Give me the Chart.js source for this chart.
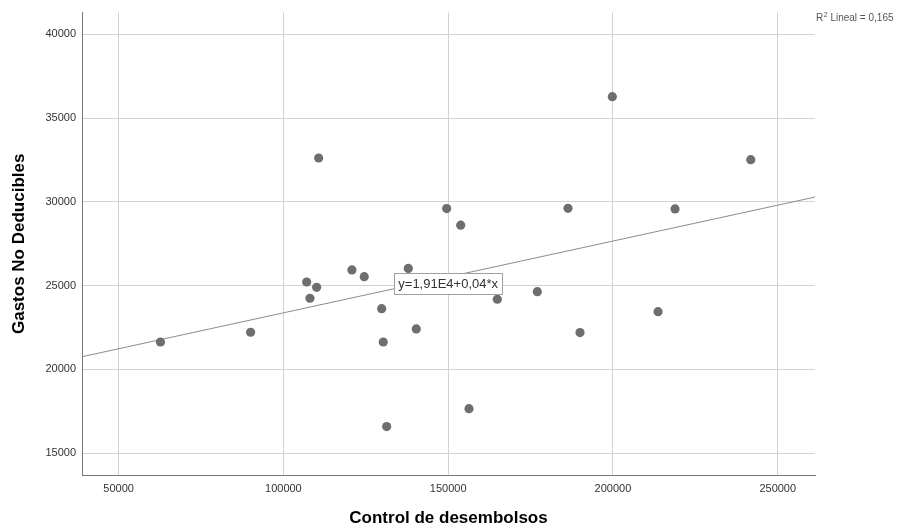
<!DOCTYPE html>
<html><head><meta charset="utf-8">
<script src="https://cdn.jsdelivr.net/npm/chart.js@4.4.1/dist/chart.umd.min.js"></script>
<style>html,body{margin:0;padding:0;background:#fff;}canvas{display:block;}</style>
</head><body>
<canvas id="c" width="907" height="527"></canvas>
<script>
// ---- data ----
const controlDesembolsos = [62700, 90060, 110700, 107060, 110090, 108060, 120800, 124540, 129820, 130300, 131340, 137900, 140320, 149550, 153800, 156320, 164900, 177050, 186360, 190000, 199810, 213680, 218840, 241810];
const gastosNoDeducibles = [21640, 22220, 32620, 25220, 24900, 24250, 25940, 25540, 23630, 21640, 16590, 26030, 22420, 29600, 28610, 17660, 24190, 24640, 29620, 22200, 36280, 23450, 29580, 32520];
const xTicks = [50000, 100000, 150000, 200000, 250000];
const yTicks = [15000, 20000, 25000, 30000, 35000, 40000];
const xRange = [38900, 261300];
const yRange = [13700, 41300];
const fitLineX = [38900, 261300];
const fitLineY = [20760, 30290];
const fitEquation = 'y=1,91E4+0,04*x';
const fitLabelAt = [150000, 25160];
const rSquaredParts = ['R', '2', ' Lineal = 0,165'];
const xTitle = 'Control de desembolsos';
const yTitle = 'Gastos No Deducibles';

const FONT = "'Liberation Sans', Arial, sans-serif";

const annotations = {
  id: 'annotations',
  afterDatasetsDraw(chart) {
    const {ctx, scales: {x, y}} = chart;
    const px = x.getPixelForValue(fitLabelAt[0]);
    const py = y.getPixelForValue(fitLabelAt[1]);
    ctx.save();
    ctx.font = '13px ' + FONT;
    const tw = ctx.measureText(fitEquation).width;
    const w = Math.round(tw + 8), h = 21;
    const bx = Math.round(px - w / 2) + 0.5, by = Math.round(py - h / 2) + 0.5;
    ctx.fillStyle = '#ffffff';
    ctx.fillRect(bx, by, w, h);
    ctx.strokeStyle = '#a0a0a0';
    ctx.lineWidth = 1;
    ctx.strokeRect(bx, by, w, h);
    ctx.fillStyle = '#333333';
    ctx.textAlign = 'center';
    ctx.textBaseline = 'middle';
    ctx.fillText(fitEquation, px, py + 1);
    ctx.restore();
  },
  afterDraw(chart) {
    const {ctx, chartArea} = chart;
    ctx.save();
    ctx.fillStyle = '#555555';
    ctx.textBaseline = 'alphabetic';
    let cx = chartArea.right + 1;
    const base = 21;
    ctx.font = '10px ' + FONT;
    ctx.fillText(rSquaredParts[0], cx, base);
    cx += ctx.measureText(rSquaredParts[0]).width + 0.5;
    ctx.font = '7px ' + FONT;
    ctx.fillText(rSquaredParts[1], cx, base - 4);
    cx += ctx.measureText(rSquaredParts[1]).width;
    ctx.font = '10px ' + FONT;
    ctx.fillText(rSquaredParts[2], cx, base);
    ctx.restore();
  }
};

const points = controlDesembolsos.map((v, i) => ({x: v, y: gastosNoDeducibles[i]}));
const fitPoints = fitLineX.map((v, i) => ({x: v, y: fitLineY[i]}));

new Chart(document.getElementById('c'), {
  type: 'scatter',
  data: {
    datasets: [
      {
        type: 'line', data: fitPoints, borderColor: '#8c8c8c', borderWidth: 1,
        pointRadius: 0, fill: false, tension: 0, order: 2
      },
      {
        data: points, backgroundColor: '#6e6e6e', borderWidth: 0,
        pointRadius: 4.6, pointHoverRadius: 4.6, order: 1
      }
    ]
  },
  options: {
    responsive: false,
    animation: false,
    events: [],
    layout: {padding: {top: 12, right: 92, bottom: 0, left: 0}},
    plugins: {legend: {display: false}, tooltip: {enabled: false}},
    scales: {
      x: {
        type: 'linear', min: xRange[0], max: xRange[1],
        afterBuildTicks: s => { s.ticks = xTicks.map(v => ({value: v})); },
        afterFit: s => { s.height = 52; },
        grid: {color: '#d2d2d2', lineWidth: 1, drawTicks: false},
        border: {color: '#777777', width: 1},
        ticks: {font: {family: FONT, size: 11}, color: '#333333', padding: 7, maxRotation: 0, callback: v => String(v)},
        title: {display: true, text: xTitle, color: '#000000',
          font: {family: FONT, size: 17, weight: 'bold', lineHeight: 1}, padding: {top: 0, bottom: 0}}
      },
      y: {
        type: 'linear', min: yRange[0], max: yRange[1],
        afterBuildTicks: s => { s.ticks = yTicks.map(v => ({value: v})); },
        afterFit: s => { s.width = 82; },
        grid: {color: '#d2d2d2', lineWidth: 1, drawTicks: false},
        border: {color: '#777777', width: 1},
        ticks: {font: {family: FONT, size: 11}, color: '#333333', padding: 6, callback: v => String(v)},
        title: {display: true, text: yTitle, color: '#000000',
          font: {family: FONT, size: 17, weight: 'bold', lineHeight: 1}, padding: {top: 11, bottom: 0}}
      }
    }
  },
  plugins: [annotations]
});
</script>
</body></html>
